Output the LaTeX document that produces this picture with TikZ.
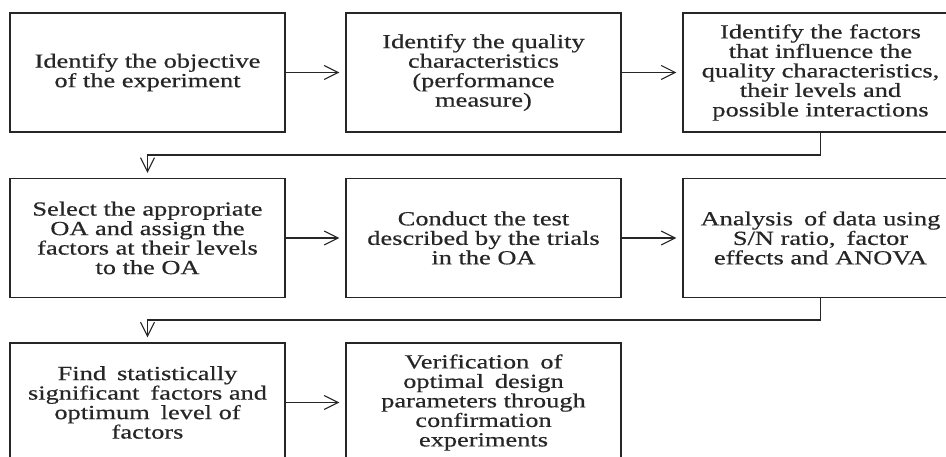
\documentclass[tikz,border=0pt]{standalone}
\usepackage{fontspec}
\setmainfont{Liberation Serif}[FakeStretch=1.32,FakeBold=0.5]
\usetikzlibrary{arrows.meta}
\newcommand{\wsp}{\hspace{0.55em}}
\begin{document}
\begin{tikzpicture}[x=1pt,y=-1pt,
  stepbox/.style={draw=black!85, line width=1.1pt, minimum width=275pt, minimum height=119pt,
    inner sep=0pt, align=center, font=\fontsize{20}{19.5}\selectfont, text=black!85},
  conn/.style={draw=black!85, line width=1.1pt,
    -{Straight Barb[length=14pt,width=14pt,line width=1.1pt]}, shorten >=6pt},
  downconn/.style={conn, shorten >=5pt}]
\useasboundingbox (0,0) rectangle (946,457);
\clip (0,0) rectangle (946,457);
\node[stepbox] (b1) at (147.5,72.5) {Identify the objective\\of the experiment};
\node[stepbox] (b2) at (483.5,72.5) {Identify the quality\\characteristics\\(performance\\measure)};
\node[stepbox] (b3) at (820.5,72.5) {Identify the factors\\that influence the\\quality characteristics,\\their levels and\\possible interactions};
\node[stepbox] (b4) at (147.5,238) {Select the appropriate\\OA and assign the\\factors at their levels\\to the OA};
\node[stepbox] (b5) at (483.5,238) {Conduct the test\\described by the trials\\in the OA};
\node[stepbox] (b6) at (820.5,238) {Analysis\wsp of data using\\S/N ratio,\wsp factor\\effects and ANOVA};
\node[stepbox] (b7) at (147.5,402.5) {Find\wsp statistically\\significant\wsp factors and\\optimum\wsp level of\\factors};
\node[stepbox] (b8) at (483.5,402.5) {Verification\wsp of\\optimal\wsp design\\parameters through\\confirmation\\experiments};
\coordinate (k1) at (820.5,155);
\coordinate (k2) at (820.5,320);
\draw[conn] (b1) -- (b2);
\draw[conn] (b2) -- (b3);
\draw[conn] (b4) -- (b5);
\draw[conn] (b5) -- (b6);
\draw[conn] (b7) -- (b8);
\draw[downconn] (b3.south) -- (k1) -| (b4.north);
\draw[downconn] (b6.south) -- (k2) -| (b7.north);
\end{tikzpicture}
\end{document}
